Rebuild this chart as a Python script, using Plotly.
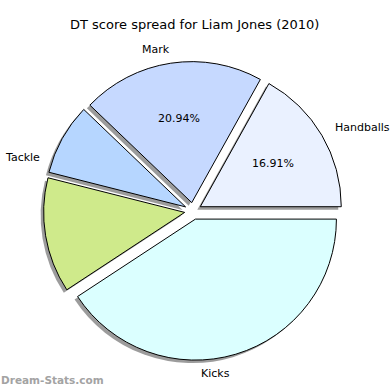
import math
import plotly.graph_objects as go

# ---- data ----
categories = ["Handballs", "Mark", "Tackle", "", "Kicks"]
shares = [16.91, 20.94, 8.20, 13.20, 40.75]
show_pct = [True, True, False, False, False]
colors = ["#eaf1ff", "#c6d9ff", "#b6d6ff", "#cfea8b", "#dbffff"]
title_text = "DT score spread for Liam Jones (2010)"
watermark = "Dream-Stats.com"

# ---- layout geometry (pixels) ----
W = H = 390
CX, CY = 193, 211
R = 141
PULL = 0.06
BOX = R * (2 + 2 * PULL)
FONT = "DejaVu Sans"

total = sum(shares)
# plotly (counterclockwise): first slice spans clockwise from `rotation`;
# we want the first slice to start at 3 o'clock and go counterclockwise.
ROT = 90 - 360.0 * shares[0] / total


def domain(cx, cy):
    return dict(x=[(cx - BOX / 2) / W, (cx + BOX / 2) / W],
                y=[1 - (cy + BOX / 2) / H, 1 - (cy - BOX / 2) / H])


def px(x, y):
    return x / W, 1 - y / H


fig = go.Figure()

# shadow
fig.add_trace(go.Pie(
    labels=categories, values=shares, sort=False, direction="counterclockwise",
    rotation=ROT, pull=[PULL] * len(shares), domain=domain(CX - 3, CY + 3),
    marker=dict(colors=["rgba(90,90,90,0.6)"] * len(shares), line=dict(width=0)),
    textinfo="none", hoverinfo="skip", showlegend=False,
))

# main pie
fig.add_trace(go.Pie(
    labels=categories, values=shares, sort=False, direction="counterclockwise",
    rotation=ROT, pull=[PULL] * len(shares), domain=domain(CX, CY),
    marker=dict(colors=colors, line=dict(color="black", width=1)),
    textinfo="none", showlegend=False,
))

annotations = []
start = 0.0
for cat, v, sp in zip(categories, shares, show_pct):
    span = 360.0 * v / total
    mid = math.radians(start + span / 2)
    start += span
    if sp:
        cx = CX + PULL * R * math.cos(mid)
        cy = CY - PULL * R * math.sin(mid)
        x, y = px(cx + 0.6 * R * math.cos(mid), cy - 0.6 * R * math.sin(mid))
        annotations.append(dict(text=f"{v:.2f}%", x=x, y=y, xref="paper", yref="paper",
                                xanchor="center", yanchor="middle", showarrow=False,
                                font=dict(family=FONT, size=11, color="black")))

# category labels (placed as in the reference)
label_pos = {"Handballs": (333, 128, "left"), "Mark": (172, 49, "right"),
             "Tackle": (42, 157, "right"), "Kicks": (199, 373, "left")}
for cat in categories:
    if cat in label_pos:
        lx, ly, anc = label_pos[cat]
        x, y = px(lx, ly)
        annotations.append(dict(text=cat, x=x, y=y, xref="paper", yref="paper",
                                xanchor=anc, yanchor="middle", showarrow=False,
                                font=dict(family=FONT, size=11, color="black")))

tx, ty = px(194, 25)
annotations.append(dict(text=title_text, x=tx, y=ty, xref="paper", yref="paper",
                        xanchor="center", yanchor="middle", showarrow=False,
                        font=dict(family=FONT, size=13, color="black")))
wx, wy = px(-1, 380)
annotations.append(dict(text=f"<b>{watermark}</b>", x=wx, y=wy, xref="paper", yref="paper",
                        xanchor="left", yanchor="middle", showarrow=False,
                        font=dict(family=FONT, size=10.5, color="#a3a3a3")))

fig.update_layout(
    width=W, height=H, margin=dict(l=0, r=0, t=0, b=0),
    paper_bgcolor="white", plot_bgcolor="white",
    annotations=annotations, showlegend=False,
)

fig.write_html("out.html", config={"displayModeBar": False},
               post_script="document.body.style.margin='0';")
